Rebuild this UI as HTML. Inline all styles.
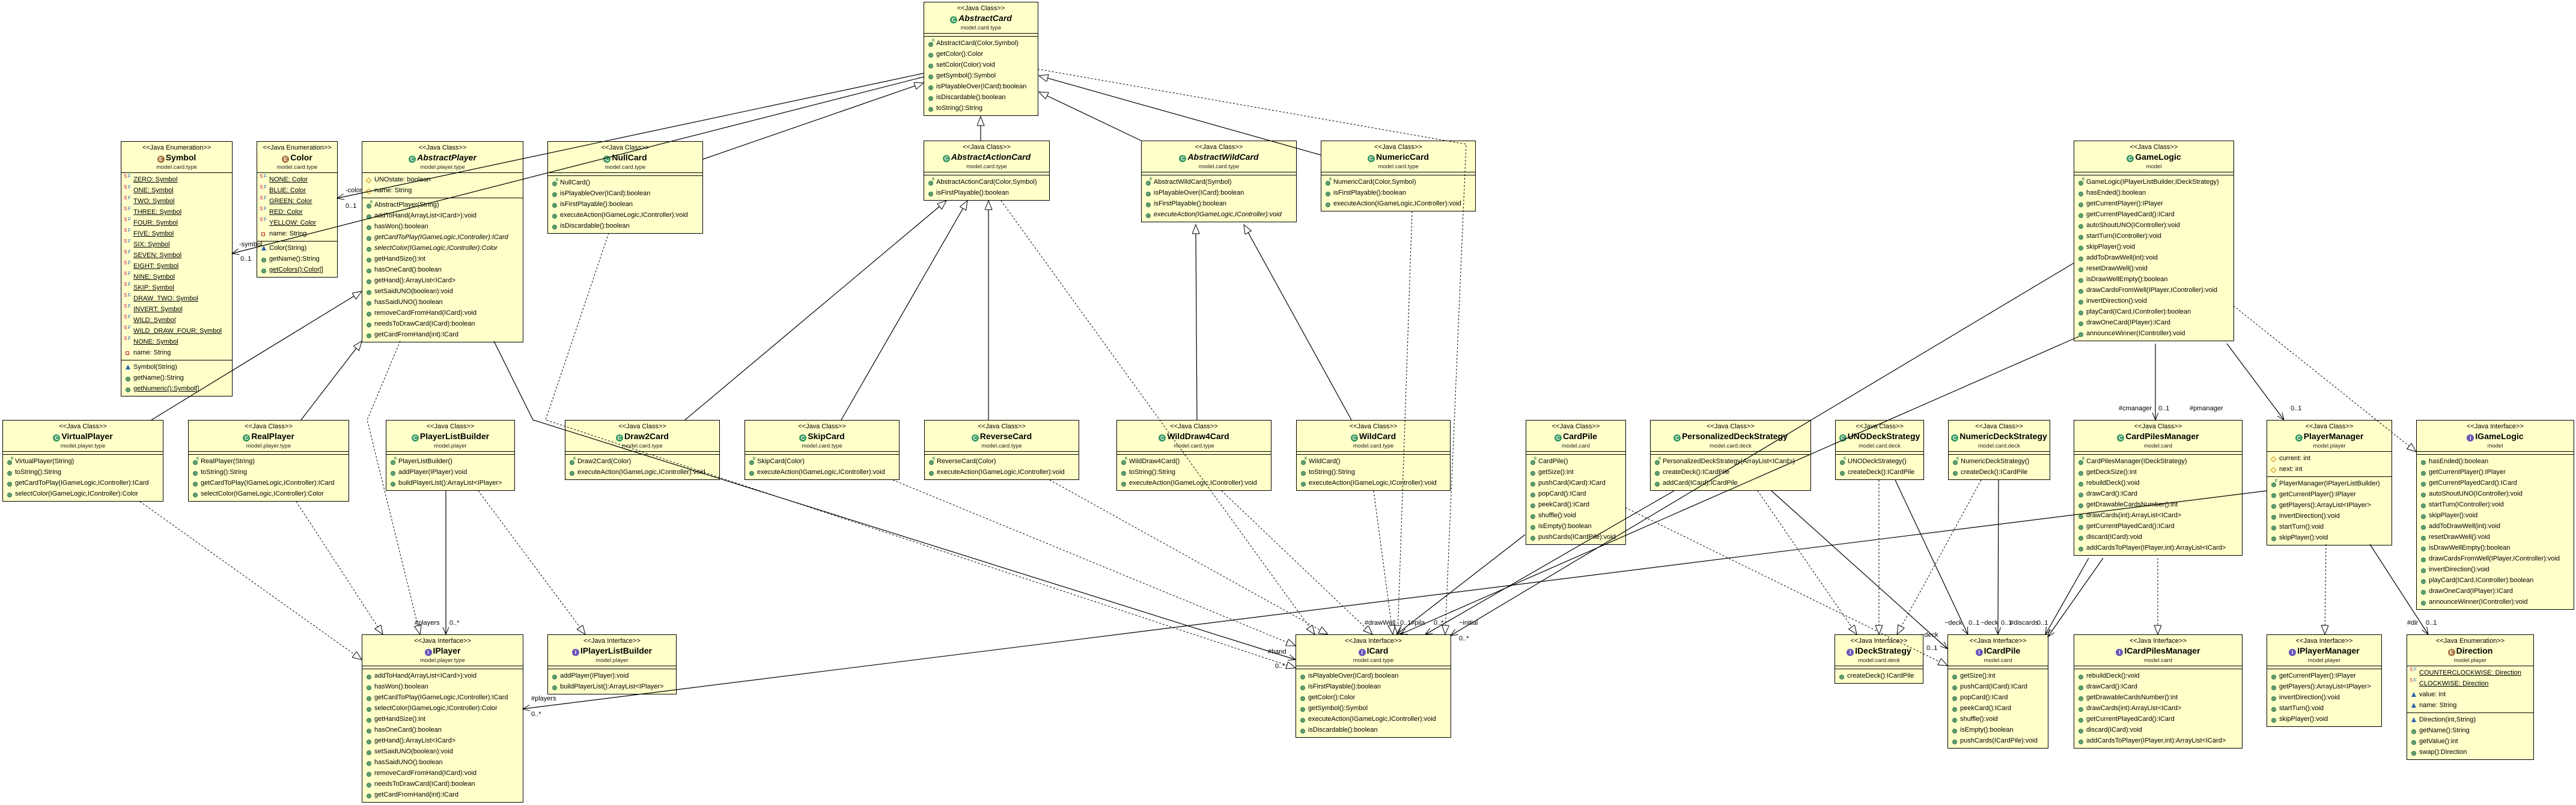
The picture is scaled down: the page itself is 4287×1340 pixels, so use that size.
<!DOCTYPE html>
<html><head><meta charset="utf-8"><style>
body{margin:0;width:4287px;height:1340px;background:#fff;position:relative;overflow:hidden;font-family:"Liberation Sans",sans-serif;}
.b{position:absolute;background:#ffffca;border:1.5px solid #000;box-sizing:border-box;font-size:11px;color:#000;}
.h{text-align:center;height:52px;border-bottom:1.5px solid #000;box-sizing:border-box;}
.st{line-height:13px;padding-top:4px;font-size:11px;}
.nm{font-weight:bold;font-size:14px;line-height:19px;}
.nm.i{font-style:italic;}
.ic{display:inline-block;width:12px;height:12px;border-radius:50%;color:#fff;font-size:9px;line-height:12px;text-align:center;font-style:normal;margin-right:2px;vertical-align:-1px;}
.ic.k{background:#3a9a62;}
.ic.n{background:#6a55b8;}
.ic.m{background:#a8703a;}
.pk{font-size:9.5px;line-height:14px;color:#222;}
.s{border-bottom:1.5px solid #000;padding:2px 0 3px;}
.s:last-child{border-bottom:none;}
.e{padding:0;height:4px;}
.r{height:18px;line-height:18px;padding-left:20px;position:relative;white-space:nowrap;}
.r::before{content:"";position:absolute;left:7px;top:7px;width:6px;height:6px;border-radius:50%;background:#5e9f72;border:1px solid #3c7a50;}
.c::after{content:"c";position:absolute;left:13px;top:-5px;font-size:8px;color:#1a7a3a;font-weight:bold;}
.f::before{content:"S";background:none;border:none;color:#d0104c;font-size:8px;top:-5px;left:4px;width:auto;height:auto;border-radius:0;}
.f::after{content:"F";position:absolute;left:11px;top:-5px;font-size:8px;color:#2060c0;}
.a::before{width:5px;height:5px;transform:rotate(45deg);border:1px solid #d08b00;background:none;border-radius:0;}
.p::before{width:4px;height:4px;border:1.5px solid #c01020;background:none;border-radius:0;}
.t::before{width:0;height:0;border-radius:0;background:none;border:none;border-left:4px solid transparent;border-right:4px solid transparent;border-bottom:8px solid #2a5fb0;top:5px;}
.u{text-decoration:underline;}
.it{font-style:italic;}
svg{position:absolute;left:0;top:0;}
svg text{font-family:"Liberation Sans",sans-serif;font-size:11px;}
</style></head><body>

<div class="b" style="left:201px;top:235px;width:186px;">
<div class="h"><div class="st">&lt;&lt;Java Enumeration&gt;&gt;</div><div class="nm"><span class="ic m">E</span>Symbol</div><div class="pk">model.card.type</div></div>
<div class="s">
<div class="r f"><span class="u">ZERO: Symbol</span></div><div class="r f"><span class="u">ONE: Symbol</span></div><div class="r f"><span class="u">TWO: Symbol</span></div><div class="r f"><span class="u">THREE: Symbol</span></div><div class="r f"><span class="u">FOUR: Symbol</span></div><div class="r f"><span class="u">FIVE: Symbol</span></div><div class="r f"><span class="u">SIX: Symbol</span></div><div class="r f"><span class="u">SEVEN: Symbol</span></div><div class="r f"><span class="u">EIGHT: Symbol</span></div><div class="r f"><span class="u">NINE: Symbol</span></div><div class="r f"><span class="u">SKIP: Symbol</span></div><div class="r f"><span class="u">DRAW_TWO: Symbol</span></div><div class="r f"><span class="u">INVERT: Symbol</span></div><div class="r f"><span class="u">WILD: Symbol</span></div><div class="r f"><span class="u">WILD_DRAW_FOUR: Symbol</span></div><div class="r f"><span class="u">NONE: Symbol</span></div><div class="r p">name: String</div>
</div>
<div class="s"><div class="r t">Symbol(String)</div><div class="r">getName():String</div><div class="r"><span class="u">getNumeric():Symbol[]</span></div></div>
</div>

<div class="b" style="left:427px;top:235px;width:135px;">
<div class="h"><div class="st">&lt;&lt;Java Enumeration&gt;&gt;</div><div class="nm"><span class="ic m">E</span>Color</div><div class="pk">model.card.type</div></div>
<div class="s"><div class="r f"><span class="u">NONE: Color</span></div><div class="r f"><span class="u">BLUE: Color</span></div><div class="r f"><span class="u">GREEN: Color</span></div><div class="r f"><span class="u">RED: Color</span></div><div class="r f"><span class="u">YELLOW: Color</span></div><div class="r p">name: String</div></div>
<div class="s"><div class="r t">Color(String)</div><div class="r">getName():String</div><div class="r"><span class="u">getColors():Color[]</span></div></div>
</div>

<div class="b" style="left:602px;top:235px;width:269px;">
<div class="h"><div class="st">&lt;&lt;Java Class&gt;&gt;</div><div class="nm i"><span class="ic k">C</span>AbstractPlayer</div><div class="pk">model.player.type</div></div>
<div class="s"><div class="r a">UNOstate: boolean</div><div class="r a">name: String</div></div>
<div class="s"><div class="r c">AbstractPlayer(String)</div><div class="r">addToHand(ArrayList&lt;ICard&gt;):void</div><div class="r">hasWon():boolean</div><div class="r it">getCardToPlay(IGameLogic,IController):ICard</div><div class="r it">selectColor(IGameLogic,IController):Color</div><div class="r">getHandSize():int</div><div class="r">hasOneCard():boolean</div><div class="r">getHand():ArrayList&lt;ICard&gt;</div><div class="r">setSaidUNO(boolean):void</div><div class="r">hasSaidUNO():boolean</div><div class="r">removeCardFromHand(ICard):void</div><div class="r">needsToDrawCard(ICard):boolean</div><div class="r">getCardFromHand(int):ICard</div></div>
</div>

<div class="b" style="left:911px;top:235px;width:259px;">
<div class="h"><div class="st">&lt;&lt;Java Class&gt;&gt;</div><div class="nm"><span class="ic k">C</span>NullCard</div><div class="pk">model.card.type</div></div>
<div class="s e"></div>
<div class="s"><div class="r c">NullCard()</div><div class="r">isPlayableOver(ICard):boolean</div><div class="r">isFirstPlayable():boolean</div><div class="r">executeAction(IGameLogic,IController):void</div><div class="r">isDiscardable():boolean</div></div>
</div>

<div class="b" style="left:1537px;top:3px;width:191px;">
<div class="h"><div class="st">&lt;&lt;Java Class&gt;&gt;</div><div class="nm i"><span class="ic k">C</span>AbstractCard</div><div class="pk">model.card.type</div></div>
<div class="s e"></div>
<div class="s"><div class="r c">AbstractCard(Color,Symbol)</div><div class="r">getColor():Color</div><div class="r">setColor(Color):void</div><div class="r">getSymbol():Symbol</div><div class="r">isPlayableOver(ICard):boolean</div><div class="r">isDiscardable():boolean</div><div class="r">toString():String</div></div>
</div>

<div class="b" style="left:1537px;top:234px;width:210px;">
<div class="h"><div class="st">&lt;&lt;Java Class&gt;&gt;</div><div class="nm i"><span class="ic k">C</span>AbstractActionCard</div><div class="pk">model.card.type</div></div>
<div class="s e"></div>
<div class="s"><div class="r c">AbstractActionCard(Color,Symbol)</div><div class="r">isFirstPlayable():boolean</div></div>
</div>

<div class="b" style="left:1899px;top:234px;width:259px;">
<div class="h"><div class="st">&lt;&lt;Java Class&gt;&gt;</div><div class="nm i"><span class="ic k">C</span>AbstractWildCard</div><div class="pk">model.card.type</div></div>
<div class="s e"></div>
<div class="s"><div class="r c">AbstractWildCard(Symbol)</div><div class="r">isPlayableOver(ICard):boolean</div><div class="r">isFirstPlayable():boolean</div><div class="r it">executeAction(IGameLogic,IController):void</div></div>
</div>

<div class="b" style="left:2198px;top:234px;width:258px;">
<div class="h"><div class="st">&lt;&lt;Java Class&gt;&gt;</div><div class="nm"><span class="ic k">C</span>NumericCard</div><div class="pk">model.card.type</div></div>
<div class="s e"></div>
<div class="s"><div class="r c">NumericCard(Color,Symbol)</div><div class="r">isFirstPlayable():boolean</div><div class="r">executeAction(IGameLogic,IController):void</div></div>
</div>

<div class="b" style="left:3451px;top:234px;width:267px;">
<div class="h"><div class="st">&lt;&lt;Java Class&gt;&gt;</div><div class="nm"><span class="ic k">C</span>GameLogic</div><div class="pk">model</div></div>
<div class="s e"></div>
<div class="s"><div class="r c">GameLogic(IPlayerListBuilder,IDeckStrategy)</div><div class="r">hasEnded():boolean</div><div class="r">getCurrentPlayer():IPlayer</div><div class="r">getCurrentPlayedCard():ICard</div><div class="r">autoShoutUNO(IController):void</div><div class="r">startTurn(IController):void</div><div class="r">skipPlayer():void</div><div class="r">addToDrawWell(int):void</div><div class="r">resetDrawWell():void</div><div class="r">isDrawWellEmpty():boolean</div><div class="r">drawCardsFromWell(IPlayer,IController):void</div><div class="r">invertDirection():void</div><div class="r">playCard(ICard,IController):boolean</div><div class="r">drawOneCard(IPlayer):ICard</div><div class="r">announceWinner(IController):void</div></div>
</div>

<div class="b" style="left:4px;top:699px;width:268px;">
<div class="h"><div class="st">&lt;&lt;Java Class&gt;&gt;</div><div class="nm"><span class="ic k">C</span>VirtualPlayer</div><div class="pk">model.player.type</div></div>
<div class="s e"></div>
<div class="s"><div class="r c">VirtualPlayer(String)</div><div class="r">toString():String</div><div class="r">getCardToPlay(IGameLogic,IController):ICard</div><div class="r">selectColor(IGameLogic,IController):Color</div></div>
</div>
<div class="b" style="left:313px;top:699px;width:268px;">
<div class="h"><div class="st">&lt;&lt;Java Class&gt;&gt;</div><div class="nm"><span class="ic k">C</span>RealPlayer</div><div class="pk">model.player.type</div></div>
<div class="s e"></div>
<div class="s"><div class="r c">RealPlayer(String)</div><div class="r">toString():String</div><div class="r">getCardToPlay(IGameLogic,IController):ICard</div><div class="r">selectColor(IGameLogic,IController):Color</div></div>
</div>
<div class="b" style="left:642px;top:699px;width:215px;">
<div class="h"><div class="st">&lt;&lt;Java Class&gt;&gt;</div><div class="nm"><span class="ic k">C</span>PlayerListBuilder</div><div class="pk">model.player</div></div>
<div class="s e"></div>
<div class="s"><div class="r c">PlayerListBuilder()</div><div class="r">addPlayer(IPlayer):void</div><div class="r">buildPlayerList():ArrayList&lt;IPlayer&gt;</div></div>
</div>
<div class="b" style="left:940px;top:699px;width:258px;">
<div class="h"><div class="st">&lt;&lt;Java Class&gt;&gt;</div><div class="nm"><span class="ic k">C</span>Draw2Card</div><div class="pk">model.card.type</div></div>
<div class="s e"></div>
<div class="s"><div class="r c">Draw2Card(Color)</div><div class="r">executeAction(IGameLogic,IController):void</div></div>
</div>
<div class="b" style="left:1239px;top:699px;width:258px;">
<div class="h"><div class="st">&lt;&lt;Java Class&gt;&gt;</div><div class="nm"><span class="ic k">C</span>SkipCard</div><div class="pk">model.card.type</div></div>
<div class="s e"></div>
<div class="s"><div class="r c">SkipCard(Color)</div><div class="r">executeAction(IGameLogic,IController):void</div></div>
</div>
<div class="b" style="left:1538px;top:699px;width:258px;">
<div class="h"><div class="st">&lt;&lt;Java Class&gt;&gt;</div><div class="nm"><span class="ic k">C</span>ReverseCard</div><div class="pk">model.card.type</div></div>
<div class="s e"></div>
<div class="s"><div class="r c">ReverseCard(Color)</div><div class="r">executeAction(IGameLogic,IController):void</div></div>
</div>
<div class="b" style="left:1858px;top:699px;width:258px;">
<div class="h"><div class="st">&lt;&lt;Java Class&gt;&gt;</div><div class="nm"><span class="ic k">C</span>WildDraw4Card</div><div class="pk">model.card.type</div></div>
<div class="s e"></div>
<div class="s"><div class="r c">WildDraw4Card()</div><div class="r">toString():String</div><div class="r">executeAction(IGameLogic,IController):void</div></div>
</div>
<div class="b" style="left:2157px;top:699px;width:257px;">
<div class="h"><div class="st">&lt;&lt;Java Class&gt;&gt;</div><div class="nm"><span class="ic k">C</span>WildCard</div><div class="pk">model.card.type</div></div>
<div class="s e"></div>
<div class="s"><div class="r c">WildCard()</div><div class="r">toString():String</div><div class="r">executeAction(IGameLogic,IController):void</div></div>
</div>
<div class="b" style="left:2539px;top:699px;width:167px;">
<div class="h"><div class="st">&lt;&lt;Java Class&gt;&gt;</div><div class="nm"><span class="ic k">C</span>CardPile</div><div class="pk">model.card</div></div>
<div class="s e"></div>
<div class="s"><div class="r c">CardPile()</div><div class="r">getSize():int</div><div class="r">pushCard(ICard):ICard</div><div class="r">popCard():ICard</div><div class="r">peekCard():ICard</div><div class="r">shuffle():void</div><div class="r">isEmpty():boolean</div><div class="r">pushCards(ICardPile):void</div></div>
</div>
<div class="b" style="left:2746px;top:699px;width:268px;">
<div class="h"><div class="st">&lt;&lt;Java Class&gt;&gt;</div><div class="nm"><span class="ic k">C</span>PersonalizedDeckStrategy</div><div class="pk">model.card.deck</div></div>
<div class="s e"></div>
<div class="s"><div class="r c">PersonalizedDeckStrategy(ArrayList&lt;ICard&gt;)</div><div class="r">createDeck():ICardPile</div><div class="r">addCard(ICard):ICardPile</div></div>
</div>
<div class="b" style="left:3054px;top:699px;width:148px;">
<div class="h"><div class="st">&lt;&lt;Java Class&gt;&gt;</div><div class="nm"><span class="ic k">C</span>UNODeckStrategy</div><div class="pk">model.card.deck</div></div>
<div class="s e"></div>
<div class="s"><div class="r c">UNODeckStrategy()</div><div class="r">createDeck():ICardPile</div></div>
</div>
<div class="b" style="left:3242px;top:699px;width:170px;">
<div class="h"><div class="st">&lt;&lt;Java Class&gt;&gt;</div><div class="nm"><span class="ic k">C</span>NumericDeckStrategy</div><div class="pk">model.card.deck</div></div>
<div class="s e"></div>
<div class="s"><div class="r c">NumericDeckStrategy()</div><div class="r">createDeck():ICardPile</div></div>
</div>
<div class="b" style="left:3451px;top:699px;width:281px;">
<div class="h"><div class="st">&lt;&lt;Java Class&gt;&gt;</div><div class="nm"><span class="ic k">C</span>CardPilesManager</div><div class="pk">model.card</div></div>
<div class="s e"></div>
<div class="s"><div class="r c">CardPilesManager(IDeckStrategy)</div><div class="r">getDeckSize():int</div><div class="r">rebuildDeck():void</div><div class="r">drawCard():ICard</div><div class="r">getDrawableCardsNumber():int</div><div class="r">drawCards(int):ArrayList&lt;ICard&gt;</div><div class="r">getCurrentPlayedCard():ICard</div><div class="r">discard(ICard):void</div><div class="r">addCardsToPlayer(IPlayer,int):ArrayList&lt;ICard&gt;</div></div>
</div>
<div class="b" style="left:3772px;top:699px;width:209px;">
<div class="h"><div class="st">&lt;&lt;Java Class&gt;&gt;</div><div class="nm"><span class="ic k">C</span>PlayerManager</div><div class="pk">model.player</div></div>
<div class="s"><div class="r a">current: int</div><div class="r a">next: int</div></div>
<div class="s"><div class="r c">PlayerManager(IPlayerListBuilder)</div><div class="r">getCurrentPlayer():IPlayer</div><div class="r">getPlayers():ArrayList&lt;IPlayer&gt;</div><div class="r">invertDirection():void</div><div class="r">startTurn():void</div><div class="r">skipPlayer():void</div></div>
</div>
<div class="b" style="left:4021px;top:699px;width:263px;">
<div class="h"><div class="st">&lt;&lt;Java Interface&gt;&gt;</div><div class="nm"><span class="ic n">I</span>IGameLogic</div><div class="pk">model</div></div>
<div class="s e"></div>
<div class="s"><div class="r">hasEnded():boolean</div><div class="r">getCurrentPlayer():IPlayer</div><div class="r">getCurrentPlayedCard():ICard</div><div class="r">autoShoutUNO(IController):void</div><div class="r">startTurn(IController):void</div><div class="r">skipPlayer():void</div><div class="r">addToDrawWell(int):void</div><div class="r">resetDrawWell():void</div><div class="r">isDrawWellEmpty():boolean</div><div class="r">drawCardsFromWell(IPlayer,IController):void</div><div class="r">invertDirection():void</div><div class="r">playCard(ICard,IController):boolean</div><div class="r">drawOneCard(IPlayer):ICard</div><div class="r">announceWinner(IController):void</div></div>
</div>

<div class="b" style="left:602px;top:1056px;width:269px;">
<div class="h"><div class="st">&lt;&lt;Java Interface&gt;&gt;</div><div class="nm"><span class="ic n">I</span>IPlayer</div><div class="pk">model.player.type</div></div>
<div class="s e"></div>
<div class="s"><div class="r">addToHand(ArrayList&lt;ICard&gt;):void</div><div class="r">hasWon():boolean</div><div class="r">getCardToPlay(IGameLogic,IController):ICard</div><div class="r">selectColor(IGameLogic,IController):Color</div><div class="r">getHandSize():int</div><div class="r">hasOneCard():boolean</div><div class="r">getHand():ArrayList&lt;ICard&gt;</div><div class="r">setSaidUNO(boolean):void</div><div class="r">hasSaidUNO():boolean</div><div class="r">removeCardFromHand(ICard):void</div><div class="r">needsToDrawCard(ICard):boolean</div><div class="r">getCardFromHand(int):ICard</div></div>
</div>
<div class="b" style="left:911px;top:1056px;width:215px;">
<div class="h"><div class="st">&lt;&lt;Java Interface&gt;&gt;</div><div class="nm"><span class="ic n">I</span>IPlayerListBuilder</div><div class="pk">model.player</div></div>
<div class="s e"></div>
<div class="s"><div class="r">addPlayer(IPlayer):void</div><div class="r">buildPlayerList():ArrayList&lt;IPlayer&gt;</div></div>
</div>
<div class="b" style="left:2156px;top:1056px;width:259px;">
<div class="h"><div class="st">&lt;&lt;Java Interface&gt;&gt;</div><div class="nm"><span class="ic n">I</span>ICard</div><div class="pk">model.card.type</div></div>
<div class="s e"></div>
<div class="s"><div class="r">isPlayableOver(ICard):boolean</div><div class="r">isFirstPlayable():boolean</div><div class="r">getColor():Color</div><div class="r">getSymbol():Symbol</div><div class="r">executeAction(IGameLogic,IController):void</div><div class="r">isDiscardable():boolean</div></div>
</div>
<div class="b" style="left:3053px;top:1056px;width:148px;">
<div class="h"><div class="st">&lt;&lt;Java Interface&gt;&gt;</div><div class="nm"><span class="ic n">I</span>IDeckStrategy</div><div class="pk">model.card.deck</div></div>
<div class="s e"></div>
<div class="s"><div class="r">createDeck():ICardPile</div></div>
</div>
<div class="b" style="left:3241px;top:1056px;width:168px;">
<div class="h"><div class="st">&lt;&lt;Java Interface&gt;&gt;</div><div class="nm"><span class="ic n">I</span>ICardPile</div><div class="pk">model.card</div></div>
<div class="s e"></div>
<div class="s"><div class="r">getSize():int</div><div class="r">pushCard(ICard):ICard</div><div class="r">popCard():ICard</div><div class="r">peekCard():ICard</div><div class="r">shuffle():void</div><div class="r">isEmpty():boolean</div><div class="r">pushCards(ICardPile):void</div></div>
</div>
<div class="b" style="left:3451px;top:1056px;width:281px;">
<div class="h"><div class="st">&lt;&lt;Java Interface&gt;&gt;</div><div class="nm"><span class="ic n">I</span>ICardPilesManager</div><div class="pk">model.card</div></div>
<div class="s e"></div>
<div class="s"><div class="r">rebuildDeck():void</div><div class="r">drawCard():ICard</div><div class="r">getDrawableCardsNumber():int</div><div class="r">drawCards(int):ArrayList&lt;ICard&gt;</div><div class="r">getCurrentPlayedCard():ICard</div><div class="r">discard(ICard):void</div><div class="r">addCardsToPlayer(IPlayer,int):ArrayList&lt;ICard&gt;</div></div>
</div>
<div class="b" style="left:3772px;top:1056px;width:192px;">
<div class="h"><div class="st">&lt;&lt;Java Interface&gt;&gt;</div><div class="nm"><span class="ic n">I</span>IPlayerManager</div><div class="pk">model.player</div></div>
<div class="s e"></div>
<div class="s"><div class="r">getCurrentPlayer():IPlayer</div><div class="r">getPlayers():ArrayList&lt;IPlayer&gt;</div><div class="r">invertDirection():void</div><div class="r">startTurn():void</div><div class="r">skipPlayer():void</div></div>
</div>
<div class="b" style="left:4005px;top:1056px;width:212px;">
<div class="h"><div class="st">&lt;&lt;Java Enumeration&gt;&gt;</div><div class="nm"><span class="ic m">E</span>Direction</div><div class="pk">model.player</div></div>
<div class="s"><div class="r f"><span class="u">COUNTERCLOCKWISE: Direction</span></div><div class="r f"><span class="u">CLOCKWISE: Direction</span></div><div class="r t">value: int</div><div class="r t">name: String</div></div>
<div class="s"><div class="r t">Direction(int,String)</div><div class="r">getName():String</div><div class="r">getValue():int</div><div class="r">swap():Direction</div></div>
</div>

<svg width="4287" height="1340" viewBox="0 0 4287 1340">
<defs>
<marker id="tri" markerUnits="userSpaceOnUse" markerWidth="18" markerHeight="14" refX="16" refY="6" orient="auto"><path d="M1,0 L16,6 L1,12 Z" fill="#fff" stroke="#000" stroke-width="1"/></marker>
<marker id="arr" markerUnits="userSpaceOnUse" markerWidth="14" markerHeight="12" refX="12" refY="5" orient="auto"><path d="M0,0 L12,5 L0,10" fill="none" stroke="#000" stroke-width="1"/></marker>
</defs>
<g fill="none" stroke="#000" stroke-width="1.2" marker-end="url(#tri)">
<path d="M1632,234 L1632,194"/>
<path d="M1899,234 L1729,153"/>
<path d="M2198,258 L1729,126"/>
<path d="M1170,265 L1537,138"/>
<path d="M1140,699 L1575,334"/>
<path d="M1400,699 L1610,334"/>
<path d="M1645,699 L1645,334"/>
<path d="M1992,699 L1990,374"/>
<path d="M2249,699 L2070,374"/>
<path d="M252,699 L602,485"/>
<path d="M501,699 L602,568"/>
</g>
<g fill="none" stroke="#000" stroke-width="1" stroke-dasharray="3,3" marker-end="url(#tri)">
<path d="M1727,115 L2440,240 L2405,1056"/>
<path d="M1013,388 L908,699 L2156,1112"/>
<path d="M1666,334 L2188,1056"/>
<path d="M1486,799 L2156,1075"/>
<path d="M1747,799 L2210,1056"/>
<path d="M2033,817 L2284,1056"/>
<path d="M2286,817 L2318,1056"/>
<path d="M2350,352 L2326,1056"/>
<path d="M666,568 L611,699 L699,1056"/>
<path d="M493,835 L637,1056"/>
<path d="M233,835 L602,1098"/>
<path d="M796,817 L974,1056"/>
<path d="M3717,509 L4021,752"/>
<path d="M3591,929 L3591,1056"/>
<path d="M3871,906 L3869,1056"/>
<path d="M2705,845 L3241,1108"/>
<path d="M2925,817 L3090,1056"/>
<path d="M3127,799 L3127,1056"/>
<path d="M3297,799 L3157,1056"/>
</g>
<g fill="none" stroke="#000" stroke-width="1.2" marker-end="url(#arr)">
<path d="M1537,122 L561,330"/>
<path d="M1537,128 L386,422"/>
<path d="M822,568 L887,699 L2156,1098"/>
<path d="M742,817 L742,1056"/>
<path d="M3772,817 L870,1180"/>
<path d="M3587,572 L3587,699"/>
<path d="M3706,572 L3801,699"/>
<path d="M3944,906 L4041,1056"/>
<path d="M3451,438 L2414,1058"/>
<path d="M3460,560 L2330,1056"/>
<path d="M2538,890 L2324,1056"/>
<path d="M2786,817 L2372,1056"/>
<path d="M3476,929 L3404,1056"/>
<path d="M3500,929 L3408,1060"/>
<path d="M3326,799 L3325,1056"/>
<path d="M3154,799 L3275,1056"/>
<path d="M2948,817 L3241,1080"/>
</g>
<g fill="#000">
<text x="575" y="320">-color</text><text x="575" y="346">0..1</text>
<text x="398" y="410">-symbol</text><text x="400" y="434">0..1</text>
<text x="690" y="1040">#players</text><text x="748" y="1040">0..*</text>
<text x="884" y="1166">#players</text><text x="884" y="1192">0..*</text>
<text x="3526" y="683">#cmanager</text><text x="3592" y="683">0..1</text>
<text x="3644" y="683">#pmanager</text><text x="3812" y="683">0..1</text>
<text x="4006" y="1040">#dir</text><text x="4037" y="1040">0..1</text>
<text x="2271" y="1040">#drawWell</text><text x="2330" y="1040">0..1</text>
<text x="2348" y="1040">#pila</text><text x="2386" y="1040">0..*</text>
<text x="2428" y="1040">~initial</text><text x="2428" y="1066">0..*</text>
<text x="2110" y="1088">#hand</text><text x="2122" y="1112">0..*</text>
<text x="3236" y="1040">~deck</text><text x="3276" y="1040">0..1</text><text x="3296" y="1040">~deck</text><text x="3330" y="1040">0..1</text><text x="3345" y="1040">#discards</text><text x="3390" y="1040">0..1</text>
<text x="3196" y="1060">~deck</text><text x="3206" y="1082">0..1</text>
</g>
</svg>
</body></html>
